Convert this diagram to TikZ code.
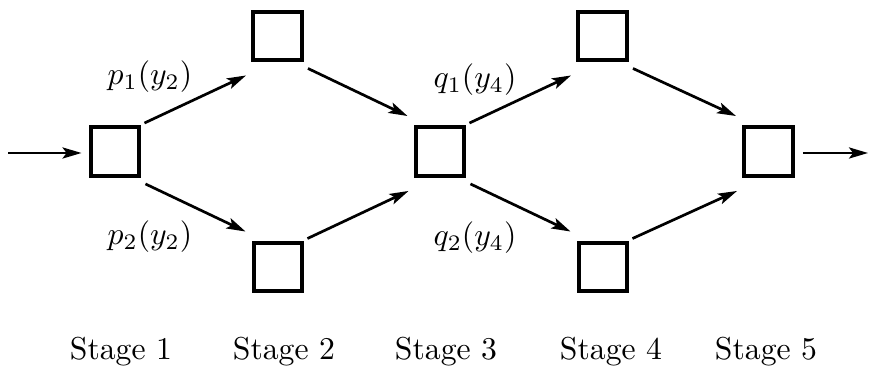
\documentclass[tikz,border=0pt]{standalone}
\usetikzlibrary{arrows.meta,calc}
\begin{document}
\begin{tikzpicture}[x=0.3155pt,y=0.3155pt,
  stagebox/.style={draw,line width=1.3pt,minimum size=15.4pt,inner sep=0pt},
  arr/.style={line width=0.85pt,-{Stealth[length=6pt,width=3.5pt,inset=1.3pt]}},
  lab/.style={inner sep=0pt},
  stagelab/.style={inner sep=0pt,anchor=base}]
\useasboundingbox (0,0) rectangle (870,375);
\node[stagebox] (b1)  at (115,223.5) {};
\node[stagebox] (b2t) at (277.5,339) {};
\node[stagebox] (b2b) at (278,108) {};
\node[stagebox] (b3)  at (440,223.5) {};
\node[stagebox] (b4t) at (602.5,339) {};
\node[stagebox] (b4b) at (603,108) {};
\node[stagebox] (b5)  at (768.5,223.5) {};
\coordinate (in) at (8,222);
\coordinate (out) at (868,222);
% input / output
\draw[arr] (in) -- ($(b1.west)+(-7,-1.5)$);
\draw[arr] ($(b5.east)+(8,-1.5)$) -- (out);
% up arrows
\draw[arr] ($(b1.north east)+(3,2)$) -- ($(b2t.south west)+(-5,-13)$);
\draw[arr] ($(b2b.north east)+(3,2)$) -- ($(b3.south west)+(-5,-13)$);
\draw[arr] ($(b3.north east)+(3,2)$) -- ($(b4t.south west)+(-5,-13)$);
\draw[arr] ($(b4b.north east)+(3,2)$) -- ($(b5.south west)+(-5,-13)$);
% down arrows
\draw[arr] ($(b1.south east)+(4,-6)$) -- ($(b2b.north west)+(-6,9)$);
\draw[arr] ($(b2t.south east)+(4,-6)$) -- ($(b3.north west)+(-6,9)$);
\draw[arr] ($(b3.south east)+(4,-6)$) -- ($(b4b.north west)+(-6,9)$);
\draw[arr] ($(b4t.south east)+(4,-6)$) -- ($(b5.north west)+(-6,9)$);
% labels
\node[lab] (lp1) at (150,298) {$p_1(y_2)$};
\node[lab] (lp2) at (150,138) {$p_2(y_2)$};
\node[lab] (lq1) at (475,295) {$q_1(y_4)$};
\node[lab] (lq2) at (475,137) {$q_2(y_4)$};
\node[stagelab] (s1) at (121,15) {Stage 1};
\node[stagelab] (s2) at (284,15) {Stage 2};
\node[stagelab] (s3) at (446,15) {Stage 3};
\node[stagelab] (s4) at (611,15) {Stage 4};
\node[stagelab] (s5) at (766,15) {Stage 5};
\end{tikzpicture}
\end{document}
